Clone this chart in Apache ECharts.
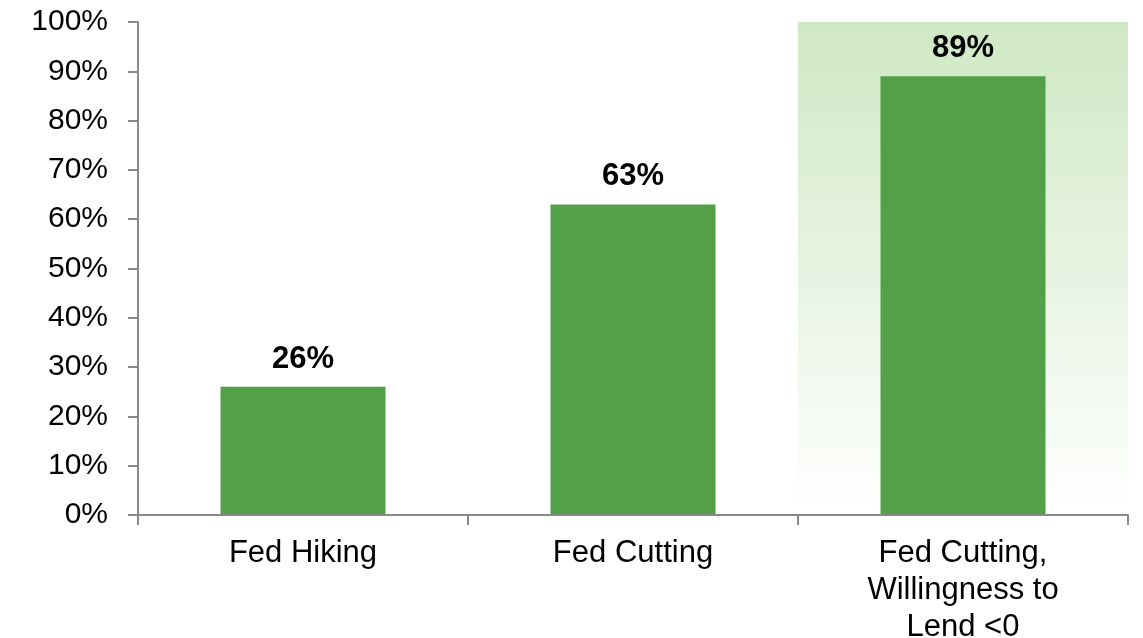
<!DOCTYPE html>
<html>
<head>
<meta charset="utf-8">
<script src="https://cdn.jsdelivr.net/npm/echarts@6/dist/echarts.min.js"></script>
<style>
html,body{margin:0;padding:0;background:#fff;}
#c{width:1143px;height:638px;}
</style>
</head>
<body>
<div id="c"></div>
<script>
const categories = ['Fed Hiking', 'Fed Cutting', 'Fed Cutting,\nWillingness to\nLend <0'];
const values = [26, 63, 89];
const highlight = [null, null, 100];
const yTicks = [0, 10, 20, 30, 40, 50, 60, 70, 80, 90, 100];

const chart = echarts.init(document.getElementById('c'));
const font = 'Liberation Sans, Arial, sans-serif';
chart.setOption({
  animation: false,
  backgroundColor: '#ffffff',
  grid: {left: 138, right: 15, top: 22, bottom: 123, containLabel: false, outerBoundsMode: 'none'},
  xAxis: [{
    type: 'category',
    data: categories,
    boundaryGap: true,
    axisLine: {show: true, lineStyle: {color: '#898989', width: 2}},
    axisTick: {show: true, length: 10, alignWithLabel: false, lineStyle: {color: '#898989', width: 2}},
    axisLabel: {
      fontFamily: font, fontSize: 31, color: '#000', margin: 20,
      lineHeight: 37, interval: 0, align: 'center'
    },
    splitLine: {show: false},
    z: 5
  }, {
    type: 'category',
    data: categories,
    boundaryGap: true,
    show: false,
    position: 'bottom'
  }],
  yAxis: {
    type: 'value',
    min: yTicks[0],
    max: yTicks[yTicks.length - 1],
    interval: 10,
    axisLine: {show: true, lineStyle: {color: '#898989', width: 2}},
    axisTick: {show: true, length: 10, lineStyle: {color: '#898989', width: 2}},
    axisLabel: {fontFamily: font, fontSize: 30, color: '#000', margin: 30, formatter: '{value}%'},
    splitLine: {show: false}
  },
  series: [
    {
      type: 'bar',
      xAxisIndex: 1,
      data: highlight,
      barWidth: '100%',
      silent: true,
      z: 1,
      itemStyle: {
        color: new echarts.graphic.LinearGradient(0, 0, 0, 1, [
          {offset: 0, color: '#cfe8c4'},
          {offset: 1, color: '#ffffff'}
        ])
      }
    },
    {
      type: 'bar',
      xAxisIndex: 0,
      data: values,
      barWidth: '50%',
      z: 3,
      itemStyle: {color: '#52a047'},
      label: {
        show: true, position: 'top', distance: 12,
        fontFamily: font, fontSize: 31, fontWeight: 'bold', color: '#000',
        formatter: '{c}%'
      }
    }
  ]
});
</script>
</body>
</html>
